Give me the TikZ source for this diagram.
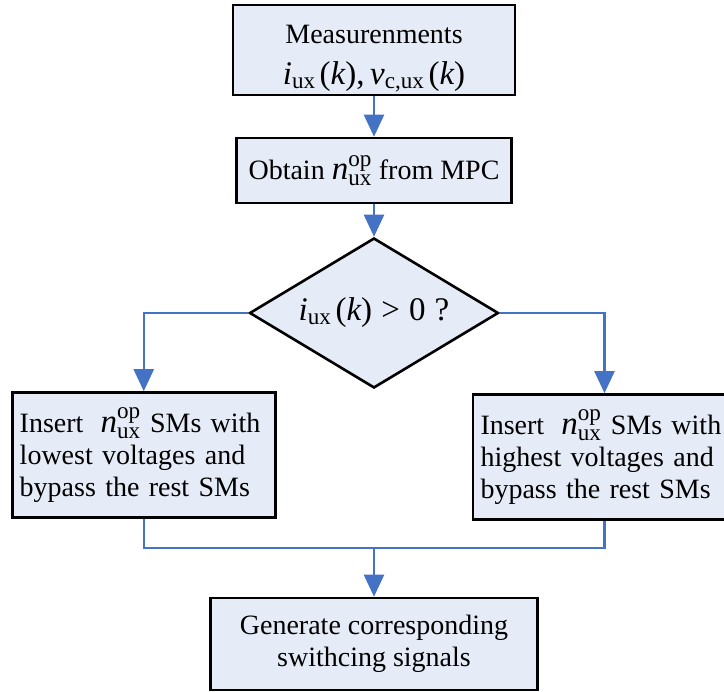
\documentclass[tikz,border=0pt]{standalone}
\usepackage{amsmath}
\usepackage{fontspec}
\setmainfont{Liberation Serif}
\usetikzlibrary{arrows.meta,shapes.geometric}

\definecolor{boxfill}{RGB}{230,236,247}
\definecolor{flowblue}{RGB}{68,114,196}

% formula pieces, set larger than the running text
\newcommand{\bigmath}[1]{{\fontsize{33}{36}\selectfont$#1$}}
\newcommand{\vi}{\textit{i}}
\newcommand{\vk}{\textit{k}}
\newcommand{\nop}{\bigmath{\textit{n}_{\text{ux}}^{\text{op}}}}

\tikzset{
  stepbox/.style={draw=black, line width=2.6pt, fill=boxfill, rectangle,
    font=\fontsize{28}{32}\selectfont, align=center, inner sep=0pt},
  sidebox/.style={stepbox, align=left, text width=248pt, minimum width=263pt,
    minimum height=125pt},
  decide/.style={draw=black, line width=2.6pt, fill=boxfill, diamond, aspect=1.66,
    minimum width=249pt, minimum height=150pt, inner sep=0pt,
    font=\fontsize{28}{32}\selectfont},
  link/.style={draw=flowblue, line width=2.4pt},
  arr/.style={link, -{Triangle[width=20pt,length=22pt]}}
}

\begin{document}
\begin{tikzpicture}[x=1pt,y=-1pt]
\useasboundingbox (0,0) rectangle (724,692);

\node[stepbox, minimum width=282pt, minimum height=90pt] (meas) at (374,50)
  {\rule{0pt}{36pt}Measurenments\\[9pt]
   \bigmath{\vi_{\text{ux}}\,\text{(}\vk\text{),\,}\textit{v}_{\text{c,ux}}\,\text{(}\vk\text{)}}};

\node[stepbox, minimum width=275pt, minimum height=65pt] (mpc) at (374,170.5)
  {Obtain \nop{} from MPC};

\node[decide] (chk) at (374,313)
  {\bigmath{\vi_{\text{ux}}\,\text{(}\vk\text{)\;>\;0\;?}}};

\node[sidebox] (low) at (143.75,455)
  {Insert \;\nop{} SMs with\\lowest voltages and\\bypass the rest SMs};

\node[sidebox] (high) at (604.5,457)
  {Insert \;\nop{} SMs with\\highest voltages and\\bypass the rest SMs};

\node[stepbox, minimum width=327pt, minimum height=92pt] (gen) at (374,644)
  {Generate corresponding\\swithcing signals};

\coordinate (merge) at (374,548);

\draw[arr] (meas) -- (mpc);
\draw[arr] (mpc) -- (chk);
\draw[arr] (chk.west) -| (low.north);
\draw[arr] (chk.east) -| (high.north);
\draw[link] (low.south) |- (merge) -| (high.south);
\draw[arr] (merge) -- (gen);
\end{tikzpicture}
\end{document}
